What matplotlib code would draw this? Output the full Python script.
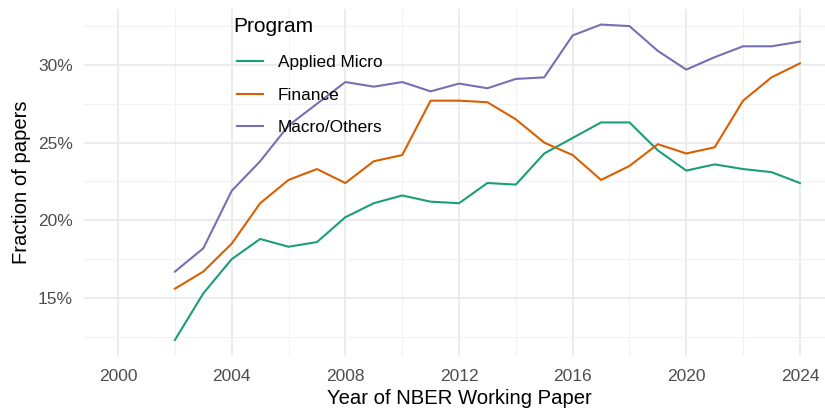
import numpy as np
import matplotlib
matplotlib.use('Agg')
import matplotlib.pyplot as plt
from matplotlib.ticker import FixedLocator, FuncFormatter

plt.rcParams['font.family'] = ['Liberation Sans', 'DejaVu Sans']

years = list(range(2002, 2025))

applied_micro = [12.3, 15.3, 17.5, 18.8, 18.3, 18.6, 20.2, 21.1, 21.6, 21.2, 21.1, 22.4,
                 22.3, 24.3, 25.3, 26.3, 26.3, 24.5, 23.2, 23.6, 23.3, 23.1, 22.4]
finance = [15.6, 16.7, 18.5, 21.1, 22.6, 23.3, 22.4, 23.8, 24.2, 27.7, 27.7, 27.6,
           26.5, 25.0, 24.2, 22.6, 23.5, 24.9, 24.3, 24.7, 27.7, 29.2, 30.1]
macro_others = [16.7, 18.2, 21.9, 23.8, 26.1, 27.5, 28.9, 28.6, 28.9, 28.3, 28.8, 28.5,
                29.1, 29.2, 31.9, 32.6, 32.5, 30.9, 29.7, 30.5, 31.2, 31.2, 31.5]

series = {
    'Applied Micro': applied_micro,
    'Finance': finance,
    'Macro/Others': macro_others,
}
colors = ['#1B9E77', '#D95F02', '#7570B3']

x_ticks = [2000, 2004, 2008, 2012, 2016, 2020, 2024]
y_ticks = [15, 20, 25, 30]

W, H = 825, 408
fig = plt.figure(figsize=(W / 100, H / 100), dpi=100)
# panel runs past the right edge, as in the (cropped) original
px_left, px_right, px_top, px_bottom = 84, 834, 9, 355.5
ax = fig.add_axes([px_left / W, 1 - px_bottom / H,
                   (px_right - px_left) / W, (px_bottom - px_top) / H])

def ax_xy(px, py):
    # pixel position -> axes fraction
    return ((px - px_left) / (px_right - px_left),
            (px_bottom - py) / (px_bottom - px_top))

for (name, vals), c in zip(series.items(), colors):
    ax.plot(years, vals, color=c, lw=1.5, label=name, solid_joinstyle='round')

ax.set_xlim(1998.8, 2025.2)
ax.set_ylim(11.3, 33.6)

ax.xaxis.set_major_locator(FixedLocator(x_ticks))
ax.xaxis.set_minor_locator(FixedLocator([2002, 2006, 2010, 2014, 2018, 2022]))
ax.yaxis.set_major_locator(FixedLocator(y_ticks))
ax.yaxis.set_minor_locator(FixedLocator([12.5, 17.5, 22.5, 27.5, 32.5]))
ax.yaxis.set_major_formatter(FuncFormatter(lambda v, p: f'{v:.0f}%'))

ax.grid(which='major', color='#EBEBEB', lw=1.3)
ax.grid(which='minor', color='#F2F2F2', lw=0.8)
ax.set_axisbelow(True)
for s in ax.spines.values():
    s.set_visible(False)
ax.tick_params(which='both', length=0)
ax.tick_params(axis='both', labelsize=12.5, labelcolor='#4D4D4D')
ax.tick_params(axis='x', pad=10)
ax.tick_params(axis='y', pad=8)

ax.set_xlabel('Year of NBER Working Paper', fontsize=14.6, labelpad=3)
ax.set_ylabel('Fraction of papers', fontsize=14.6, labelpad=5)

# legend title drawn separately so the gap below it can be set freely
ax.text(*ax_xy(233, 32), 'Program', transform=ax.transAxes, fontsize=15,
        ha='left', va='baseline')
leg = ax.legend(loc='center left', bbox_to_anchor=ax_xy(237, 95),
                frameon=False, fontsize=12.4, handlelength=1.5,
                labelspacing=1.02, handletextpad=0.87,
                borderpad=0, borderaxespad=0)

fig.savefig('out.png', dpi=100)
